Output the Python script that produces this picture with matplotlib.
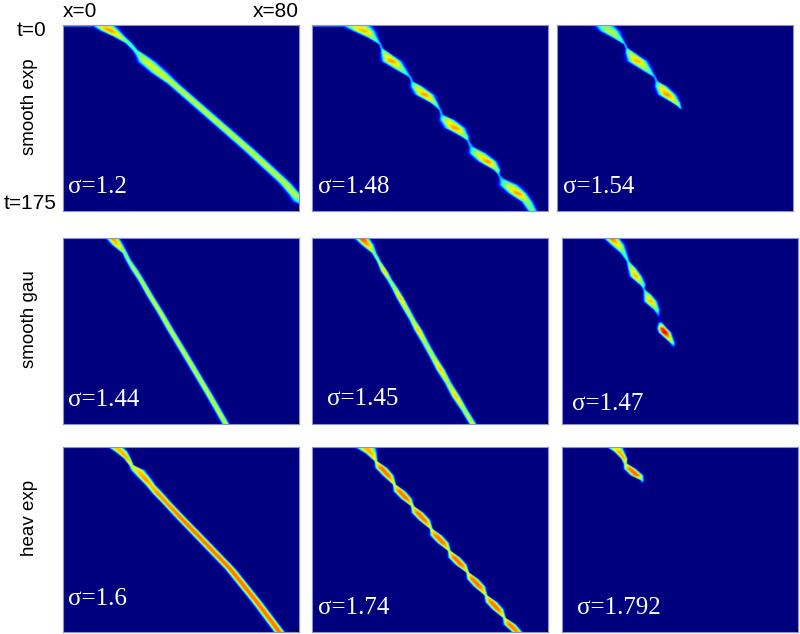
import numpy as np
import matplotlib
matplotlib.use('Agg')
import matplotlib.pyplot as plt

plt.rcParams['font.family'] = ['Liberation Sans', 'DejaVu Sans']

# ridge of the activity bump: time, left edge, right edge, peak level
t_a1 = [0, 5, 11, 17, 23.6, 28, 34.6, 45, 55, 86.4, 118, 149, 160, 166, 171]
left_a1 = [9.8, 12.7, 17.2, 21, 23.4, 24.5, 25.6, 30, 35.3, 48.3, 61.3, 73.4, 76.8, 78, 80]
right_a1 = [17.2, 18.9, 21.1, 23.5, 25.5, 28, 31.3, 35.5, 39.2, 52.2, 65.3, 77.4, 80.8, 84, 86]
level_a1 = [.65, .75, .6, .45, .42, .5, .6, .6, .57, .57, .57, .57, .57, .45, 0]

t_a2 = [0, 5.7, 12, 18.3, 21.4, 26.2, 34, 41.9, 49.2, 53, 57.7, 65.6, 73.5, 79.8, 84.5, 89.2, 97, 105, 109.1,
        114.5, 120.8, 128.6, 136.5, 140.6, 144.4, 150.7, 158.6, 166.5, 175]
left_a2 = [10.5, 14.5, 19, 22.6, 23.1, 23.3, 24.1, 28.3, 32.8, 33.2, 33.4, 35.4, 40.2, 42.9, 43.2, 43.4, 45.5, 50.4,
           52.4, 53, 53.4, 56.8, 61.4, 62.7, 63.2, 63.6, 67, 71, 73]
right_a2 = [19, 20.7, 22.1, 23.5, 23.7, 26, 29.7, 31.8, 33.6, 34.2, 37.1, 40.7, 42.5, 43.6, 44.4, 47.8, 51.2, 52.9,
            53.1, 54.6, 58.5, 61.9, 63.6, 63.4, 64.7, 69.3, 72.1, 74.4, 76]
level_a2 = [.62, .72, .5, .3, .3, .55, .75, .5, .3, .3, .55, .75, .5, .3, .3, .58, .75, .5, .3, .3, .58, .75, .5,
            .3, .3, .55, .75, .52, .45]

t_a3 = [0, 5.7, 12, 18.3, 21.4, 26.2, 34, 41.9, 49.2, 53, 57.7, 65.6, 73.5, 77.6, 79.8]
left_a3 = [12.8, 15, 19, 22.6, 23.1, 23.3, 24.4, 28.6, 32.8, 33.2, 33.4, 34.8, 39.3, 41.4, 41.8]
right_a3 = [19, 20.7, 22.1, 23.5, 24, 26.3, 30.1, 32, 33.6, 34.4, 37.1, 39.9, 41.8, 42.1, 42.3]
level_a3 = [.45, .58, .5, .3, .3, .55, .72, .5, .3, .3, .6, .75, .55, .4, .05]

t_b1 = [0, 6.3, 14.1, 20.4, 29.8, 39.3, 55, 70.7, 86.4, 117.8, 149.2, 175]
left_b1 = [14.7, 16.6, 20, 21.1, 23, 25.3, 28.5, 32, 35.2, 42, 48.7, 54]
right_b1 = [18.9, 20.3, 21.9, 23, 25.4, 27.5, 30.8, 34.3, 37.6, 44.4, 51.1, 56.4]
level_b1 = [.75, .68, .5, .5, .55, .55, .58, .58, .58, .58, .58, .58]

t_b2 = [0, 6.3, 14.1, 22, 31.4, 39.3, 47.1, 56.6, 67.6, 77, 86.4, 99, 111.5, 124, 136.6, 149.2, 161.7, 175]
left_b2 = [14.5, 16.7, 20.1, 21.8, 23.3, 25.2, 26.8, 28.6, 30.8, 32.8, 34.5, 37.1, 39.6, 42, 44.8, 47.2, 50.2, 53.1]
right_b2 = [19, 20.7, 21.8, 23.3, 25.5, 27.1, 29, 31, 33.2, 35, 37.1, 39.5, 42, 44.8, 47.2, 50, 52.6, 55.5]
level_b2 = [.85, .72, .5, .5, .7, .5, .55, .7, .58, .55, .7, .55, .58, .7, .55, .7, .55, .6]

t_b3 = [0, 6.3, 14.1, 22, 28.3, 36.1, 44, 48.1, 53.4, 59.7, 67.6, 74.5, 78, 80.5, 85, 89, 99, 103.7]
left_b3 = [14.5, 16.7, 19.8, 21.8, 22.4, 23.2, 26.3, 27.5, 27.7, 28, 31.1, 32.5, 32.8, 32.6, 32.5, 33.1, 36.7, 37.4]
right_b3 = [19, 20.9, 22, 22.9, 25, 26.9, 28.4, 28, 30.3, 32, 33.1, 33.3, 33.6, 34.3, 35.4, 36.7, 38.3, 38.5]
level_b3 = [.8, .65, .45, .35, .6, .72, .45, .3, .55, .72, .45, .12, .04, .4, .85, .92, .45, 0]

t_c1 = [0, 5.4, 11.7, 18, 22.7, 30.6, 36.9, 44.8, 52.7, 68.5, 84.3, 115.9, 147.5, 175]
left_c1 = [14.7, 17.7, 20.6, 22.3, 23, 25.8, 28, 30.4, 33.2, 38.5, 44, 55, 64.2, 71.6]
right_c1 = [20, 21.9, 23, 24, 27.6, 29.8, 31.4, 34.1, 36.6, 42, 47.6, 58.6, 67.7, 75.2]
level_c1 = [.68, .72, .72, .6, .68, .75, .7, .75, .75, .78, .78, .78, .78, .78]

t_c2 = [0, 6.9, 14.2, 20.5, 27.5, 36.3, 42.6, 49.5, 56.5, 62.8, 69.8, 78, 84.3, 91.3, 98.6, 104.9, 111.9, 119,
        125.3, 132.3, 140.6, 146.9, 153.8, 161.7, 168, 175]
left_c2 = [14.5, 18.4, 21.1, 21.7, 24.1, 27.3, 27.9, 30.3, 33.4, 34, 36.4, 39.8, 40.3, 42.7, 45.9, 46.4, 48.8, 52.1,
           52.7, 55, 58.3, 58.9, 61.2, 64.5, 65.1, 67.8]
right_c2 = [20.7, 21.5, 22, 25, 27.2, 28.3, 31.2, 33.4, 34.4, 37.3, 39.6, 40.7, 43.6, 45.9, 46.8, 49.7, 52, 53,
            55.9, 58.2, 59.2, 62.2, 64.4, 65.4, 68.5, 70.7]
level_c2 = [.7, .72, .6, .78, .78, .6, .78, .78, .6, .78, .78, .6, .78, .78, .6, .78, .78, .6, .78, .78, .6, .78,
            .78, .6, .78, .75]

t_c3 = [0, 5.4, 11.7, 16.4, 21.2, 27.5, 32.2, 35.4]
left_c3 = [15, 17.9, 20.1, 20.9, 21.2, 23.5, 26.6, 26.9]
right_c3 = [20.1, 20.9, 22, 22, 24.6, 27.2, 27.7, 27.5]
level_c3 = [.6, .72, .72, .55, .78, .8, .4, .05]

sigma_labels = ['σ=1.2', 'σ=1.48', 'σ=1.54', 'σ=1.44', 'σ=1.45', 'σ=1.47', 'σ=1.6', 'σ=1.74', 'σ=1.792']
row_labels = ['smooth exp', 'smooth gau', 'heav exp']

ridges = [(t_a1, left_a1, right_a1, level_a1), (t_a2, left_a2, right_a2, level_a2), (t_a3, left_a3, right_a3, level_a3),
          (t_b1, left_b1, right_b1, level_b1), (t_b2, left_b2, right_b2, level_b2), (t_b3, left_b3, right_b3, level_b3),
          (t_c1, left_c1, right_c1, level_c1), (t_c2, left_c2, right_c2, level_c2), (t_c3, left_c3, right_c3, level_c3)]

# faint line along t=0 to the left of the bump
has_tail = [True, True, False, False, False, False, True, True, True]

# how far the bump spreads past its read edges, panel by panel
reach_list = [1.0, 1.1, 1.1, 1.0, 1.0, 1.05, .95, 1.15, 1.1]

# panel boxes in pixels: left, top
box_w, box_h = 236, 185.5
box_left = [62.5, 312.3, 557.3, 62.5, 312.3, 562.3, 62.5, 312.3, 562.3]
box_top = [25.3, 25.3, 25.3, 238.3, 238.3, 238.3, 446.5, 446.5, 446.5]
label_x = [.023, .023, .023, .023, .061, .04, .023, .023, .061]
label_y = [.098, .096, .096, .097, .102, .075, .144, .096, .096]

W, H = 800, 634
xs = np.linspace(0, 80, 481)
ts = np.linspace(0, 175, 701)


def make_field(t, left, right, level, tail, power, reach):
    mid = (np.interp(ts, t, left) + np.interp(ts, t, right)) / 2
    half = (np.interp(ts, t, right) - np.interp(ts, t, left)) / 2
    half = np.maximum(half, .5)
    amp = np.interp(ts, t, level, right=0)
    u = np.abs(xs[None, :] - mid[:, None]) / half[:, None]
    field = amp[:, None] * np.exp(-(u / reach) ** power)
    if tail:
        row = ts < 1.6
        edge = left[0]
        field[row] = np.maximum(field[row], np.where(xs < edge, .24, 0) * np.ones_like(field[row]))
    return field


fig = plt.figure(figsize=(W / 100, H / 100), dpi=100)

for i, (t, left, right, level) in enumerate(ridges):
    ax = fig.add_axes([box_left[i] / W, 1 - (box_top[i] + box_h) / H, box_w / W, box_h / H])
    power = 3.4 if i >= 6 else 3
    ax.imshow(make_field(t, left, right, level, has_tail[i], power, reach_list[i]), extent=[0, 80, 175, 0],
              cmap='jet', vmin=0, vmax=1, aspect='auto', interpolation='bilinear')
    ax.plot([79.6], [174.4], 's', color='black', ms=1.6)
    ax.set_xlim(0, 80)
    ax.set_ylim(175, 0)
    ax.set_xticks([])
    ax.set_yticks([])
    for s in ax.spines.values():
        s.set_color('#8c90d8')
        s.set_linewidth(.8)
    ax.text(label_x[i], label_y[i], sigma_labels[i], transform=ax.transAxes, color='white',
            fontsize=18, family='Liberation Serif', ha='left', va='baseline')

fig.text(63 / W, 1 - 17 / H, 'x=0', fontsize=15, ha='left', va='baseline')
fig.text(299 / W, 1 - 17 / H, 'x=80', fontsize=15, ha='right', va='baseline')
fig.text(46 / W, 1 - 36 / H, 't=0', fontsize=15, ha='right', va='baseline')
fig.text(57 / W, 1 - 209 / H, 't=175', fontsize=15, ha='right', va='baseline')

for y, name in zip([107, 319, 518], row_labels):
    fig.text(30 / W, 1 - y / H, name, fontsize=13.5, rotation=90, ha='center', va='center')

plt.savefig('out.png', dpi=100)
